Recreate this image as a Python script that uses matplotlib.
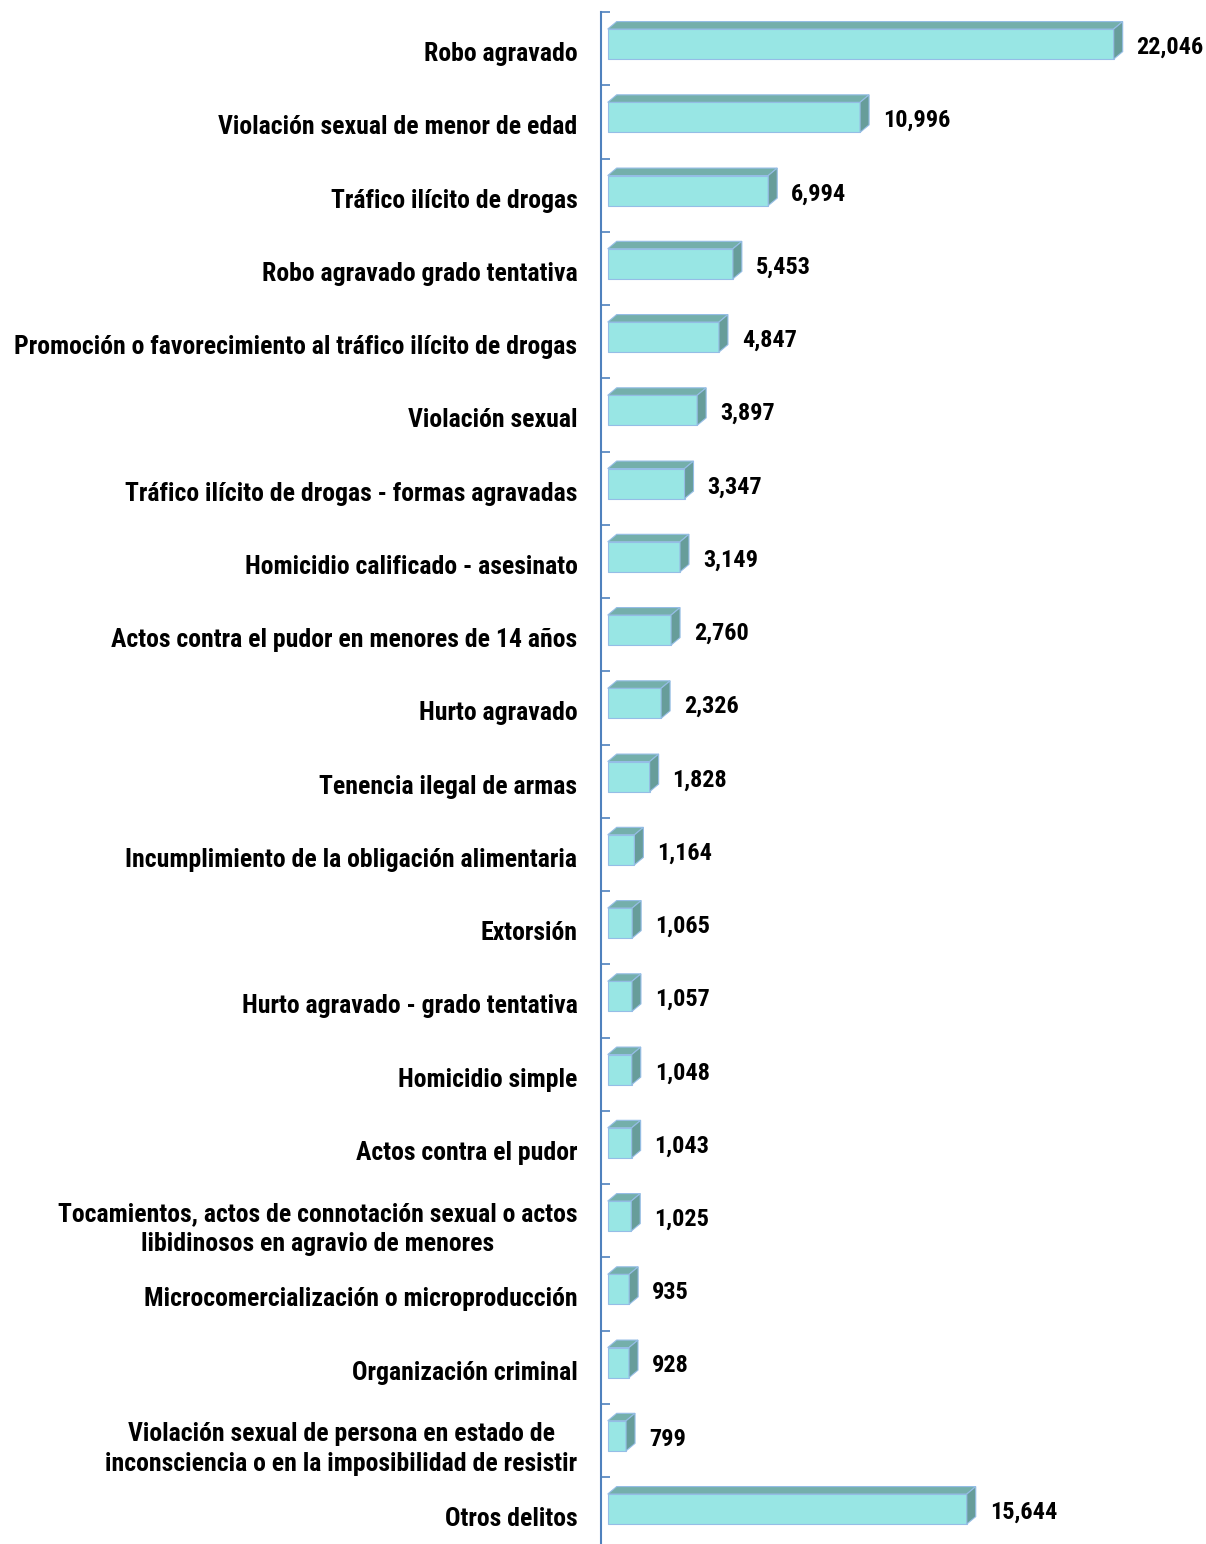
import matplotlib
matplotlib.use("Agg")
import matplotlib.pyplot as plt
from matplotlib.patches import Polygon
from matplotlib.ticker import FixedLocator
from matplotlib import font_manager as fm

categories = [
    "Robo agravado",
    "Violación sexual de menor de edad",
    "Tráfico ilícito de drogas",
    "Robo agravado grado tentativa",
    "Promoción o favorecimiento al tráfico ilícito de drogas",
    "Violación sexual",
    "Tráfico ilícito de drogas - formas agravadas",
    "Homicidio calificado - asesinato",
    "Actos contra el pudor en menores de 14 años",
    "Hurto agravado",
    "Tenencia ilegal de armas",
    "Incumplimiento de la obligación alimentaria",
    "Extorsión",
    "Hurto agravado - grado tentativa",
    "Homicidio simple",
    "Actos contra el pudor",
    "Tocamientos, actos de connotación sexual o actos\nlibidinosos en agravio de menores",
    "Microcomercialización o microproducción",
    "Organización criminal",
    "Violación sexual de persona en estado de\ninconsciencia o en la imposibilidad de resistir",
    "Otros delitos",
]
values = [22046, 10996, 6994, 5453, 4847, 3897, 3347, 3149, 2760, 2326, 1828,
          1164, 1065, 1057, 1048, 1043, 1025, 935, 928, 799, 15644]

installed = {f.name for f in fm.fontManager.ttflist}
prefs = ["Arial Narrow", "Liberation Sans Narrow", "Roboto Condensed",
         "Archivo Narrow", "PT Sans Narrow", "Open Sans Condensed",
         "Encode Sans Condensed", "Fira Sans Condensed", "IBM Plex Sans Condensed"]
fams = [f for f in prefs if f in installed] + ["DejaVu Sans"]
FAM = [fams[0], "DejaVu Sans"]

W, H = 1206, 1544
fig = plt.figure(figsize=(W / 100, H / 100), dpi=100)
ax_left, ax_top = 601, 12
n = len(categories)
cat_px = 73.25
ax_h = cat_px * n                     # axes extends a little below the figure edge
ax_bottom = H - ax_top - ax_h
ax = fig.add_axes([ax_left / W, ax_bottom / H, (W - ax_left) / W, ax_h / H])

k = 506 / 22046.0           # px per unit
x0 = 6.7                    # px from axis to bar start
ax.set_xlim(-x0 / k, (W - ax_left - x0) / k)
ax.set_ylim(n - 0.5, -0.5)

front_c = "#98E6E4"
top_c = "#74AFAB"
side_c = "#679D9A"
edge_c = "#95BDE6"

ddx = 9 / k
ddy = 7.5 / cat_px
off = -0.062
hgt = 0.41

ys = [i + off for i in range(n)]
ax.barh(ys, values, height=hgt, left=0, color=front_c, edgecolor=edge_c,
        linewidth=0.8, zorder=3)
for i, v in enumerate(values):
    yt = ys[i] - hgt / 2
    yb = ys[i] + hgt / 2
    top = Polygon([(0, yt), (v, yt), (v + ddx, yt - ddy), (ddx, yt - ddy)],
                  closed=True, facecolor=top_c, edgecolor=edge_c, linewidth=0.8, zorder=3)
    side = Polygon([(v, yt), (v, yb), (v + ddx, yb - ddy), (v + ddx, yt - ddy)],
                   closed=True, facecolor=side_c, edgecolor=edge_c, linewidth=0.8, zorder=3)
    ax.add_patch(top)
    ax.add_patch(side)
    ax.annotate(f"{v:,}", xy=(v + ddx, i - 0.05), xytext=(10, 0),
                textcoords="offset points", ha="left", va="center_baseline",
                fontsize=17.5, fontweight="bold", family=FAM, color="black")

for s in ["top", "right", "bottom"]:
    ax.spines[s].set_visible(False)
ax.spines["left"].set_color("#4F81BD")
ax.spines["left"].set_linewidth(1.5)
ax.set_xticks([])

label_shift = 3.0 / cat_px
ax.set_yticks([i + label_shift for i in range(n)])
ax.set_yticklabels(categories, fontsize=18.5, fontweight="bold", family=FAM,
                   multialignment="center", linespacing=1.3)
ax.tick_params(axis="y", which="major", length=0, pad=17)
ax.yaxis.set_minor_locator(FixedLocator([i - 0.5 for i in range(n + 1)]))
ax.tick_params(axis="y", which="minor", direction="in", length=6.5,
               color="#4F81BD", width=1.2)

fig.savefig("out.png", dpi=100)
